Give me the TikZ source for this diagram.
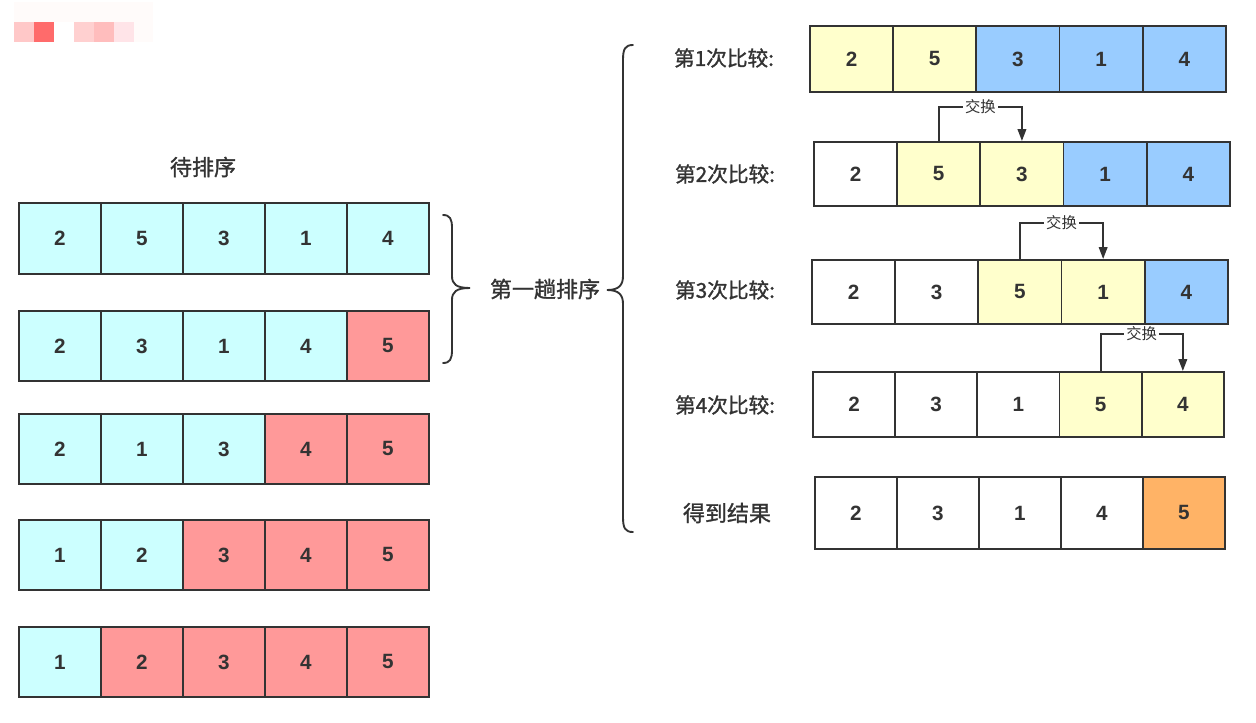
\documentclass[tikz,border=0pt]{standalone}
\usepackage{fontspec}
\newfontfamily\cjk{Noto Sans CJK SC}
\newfontfamily\cjkm[FakeBold=1.3]{Noto Sans CJK SC}
\newfontfamily\numfont{Liberation Sans}
\usetikzlibrary{arrows.meta}
\definecolor{ink}{HTML}{333333}
\definecolor{cya}{HTML}{CCFFFF}
\definecolor{pnk}{HTML}{FF9999}
\definecolor{yel}{HTML}{FFFFCC}
\definecolor{blu}{HTML}{99CCFF}
\definecolor{ora}{HTML}{FFB366}
\definecolor{wht}{HTML}{FFFFFF}
\definecolor{wmbg}{HTML}{FFFBFA}
\definecolor{wma}{HTML}{FFC8C8}
\definecolor{wmb}{HTML}{FF6B6B}
\definecolor{wmc}{HTML}{FFD0D0}
\definecolor{wmd}{HTML}{FFBDBD}
\definecolor{wme}{HTML}{FFE4E8}
\tikzset{
  cell/.style={draw=ink, line width=1.4pt, inner sep=0pt, anchor=north west,
    font=\numfont\bfseries\fontsize{15.5}{16}\selectfont, text=ink},
  lbl/.style={font=\cjkm\fontsize{15.5}{16}\selectfont, text=ink, inner sep=0pt},
  biglbl/.style={font=\cjkm\fontsize{16.5}{17}\selectfont, text=ink, inner sep=0pt},
  swaplbl/.style={font=\cjk\fontsize{11.5}{12}\selectfont, text=ink, fill=white, inner sep=1.5pt},
  swaparr/.style={draw=ink, line width=1.3pt, -{Triangle[width=6.5pt,length=9pt]}},
  bracepath/.style={draw=ink, line width=1.4pt, line cap=round}
}
\newcommand\mkrow[6]{%
  \foreach \v/\c [count=\i] in {#6} {%
    \node[cell, fill=\c, minimum width={#4*0.75pt}, minimum height={#5*0.75pt}]
      (#1-\i) at ({#2+(\i-1)*#4},#3) {\v};}}
\begin{document}
\begin{tikzpicture}[x=0.75pt,y=-0.75pt]
\useasboundingbox (0,0) rectangle (1256,722);
% faint blurred mark, top left
\fill[wmbg] (14,2) rectangle (153,42);
\fill[wma] (14,22) rectangle (34,42);
\fill[wmb] (34,22) rectangle (54,42);
\fill[white] (54,22) rectangle (74,42);
\fill[wmc] (74,22) rectangle (94,42);
\fill[wmd] (94,22) rectangle (114,42);
\fill[wme] (114,22) rectangle (134,42);

% left column
\node[biglbl] (title) at (203,167) {待排序};
\mkrow{L1}{18}{202}{82}{71}{2/cya,5/cya,3/cya,1/cya,4/cya}
\mkrow{L2}{18}{310}{82}{70}{2/cya,3/cya,1/cya,4/cya,5/pnk}
\mkrow{L3}{18}{413}{82}{70}{2/cya,1/cya,3/cya,4/pnk,5/pnk}
\mkrow{L4}{18}{519}{82}{70}{1/cya,2/cya,3/pnk,4/pnk,5/pnk}
\mkrow{L5}{18}{626}{82}{70}{1/cya,2/pnk,3/pnk,4/pnk,5/pnk}

% small brace
\draw[bracepath] (443,215) .. controls (450,215) and (452,219) .. (452,228)
  -- (452,276) .. controls (452,284) and (456,288) .. (470,288)
  .. controls (456,288) and (452,292) .. (452,300)
  -- (452,350) .. controls (452,359) and (450,363) .. (443,363);
\node[biglbl] (pass) at (545,289) {第一趟排序};

% big brace
\draw[bracepath] (633,45) .. controls (625,45) and (623,49) .. (623,60)
  -- (623,276) .. controls (623,285) and (619,290) .. (607,290)
  .. controls (619,290) and (623,295) .. (623,304)
  -- (623,517) .. controls (623,528) and (625,532) .. (633,532);

% right column
\node[lbl] (c1) at (724,58) {第1次比较:};
\node[lbl] (c2) at (725,174) {第2次比较:};
\node[lbl] (c3) at (725,290) {第3次比较:};
\node[lbl] (c4) at (725,405) {第4次比较:};
\node[biglbl] (res) at (727,513) {得到结果};

\mkrow{R1}{809}{25}{83.2}{66}{2/yel,5/yel,3/blu,1/blu,4/blu}
\mkrow{R2}{813}{141}{83.2}{64}{2/wht,5/yel,3/yel,1/blu,4/blu}
\mkrow{R3}{811}{259}{83.2}{64}{2/wht,3/wht,5/yel,1/yel,4/blu}
\mkrow{R4}{812}{371}{82.2}{65}{2/wht,3/wht,1/wht,5/yel,4/yel}
\mkrow{R5}{814}{476}{82}{72}{2/wht,3/wht,1/wht,4/wht,5/ora}

% swap arrows
\draw[swaparr] (R2-2.north) -- ++(0,-34) -| node[pos=0.25, swaplbl] {交换} (R2-3.north);
\draw[swaparr] (R3-3.north) -- ++(0,-36) -| node[pos=0.25, swaplbl] {交换} (R3-4.north);
\draw[swaparr] (R4-4.north) -- ++(0,-37) -| node[pos=0.25, swaplbl] {交换} (R4-5.north);
\end{tikzpicture}
\end{document}
